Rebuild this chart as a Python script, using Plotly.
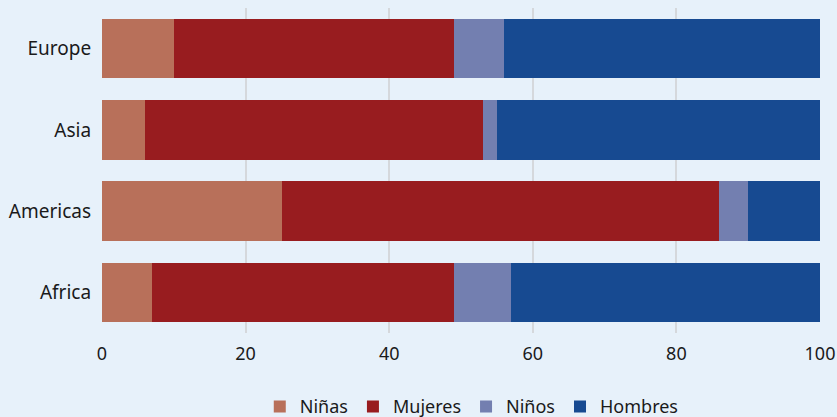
import plotly.graph_objects as go

regions = ["Africa", "Americas", "Asia", "Europe"]
ninas = [7, 25, 6, 10]
mujeres = [42, 61, 47, 39]
ninos = [8, 4, 2, 7]
hombres = [43, 10, 45, 44]

series = [
    ("Niñas", ninas, "#b8705a"),
    ("Mujeres", mujeres, "#981c1f"),
    ("Niños", ninos, "#737fb0"),
    ("Hombres", hombres, "#174a91"),
]

BG = "#e7f1fa"

fig = go.Figure()
for name, vals, color in series:
    fig.add_trace(go.Bar(y=regions, x=vals, name=name, orientation="h",
                         marker=dict(color=color, line=dict(width=0))))

fig.update_layout(
    barmode="stack",
    bargap=0.27,
    width=837, height=417,
    margin=dict(l=102, r=17, t=8, b=84, autoexpand=False),
    paper_bgcolor=BG,
    plot_bgcolor=BG,
    font=dict(family="Noto Sans", size=18, color="#1a1a1a"),
    legend=dict(orientation="h", x=0.515, xanchor="center", y=-0.17, yanchor="top",
                font=dict(size=18), traceorder="normal", itemwidth=30),
    xaxis=dict(range=[0, 100], dtick=20, showgrid=True, gridcolor="#d5d8dc",
               gridwidth=1.5, zeroline=False, showline=False, ticks="",
               tickfont=dict(size=18), ticklabelstandoff=8, automargin=False),
    yaxis=dict(showgrid=False, ticks="", ticksuffix="  ", tickfont=dict(size=19),
               automargin=False),
)

fig.write_html(
    "out.html",
    config={"displayModeBar": False},
    post_script="document.body.style.margin='0';document.body.style.background='%s';" % BG,
)
